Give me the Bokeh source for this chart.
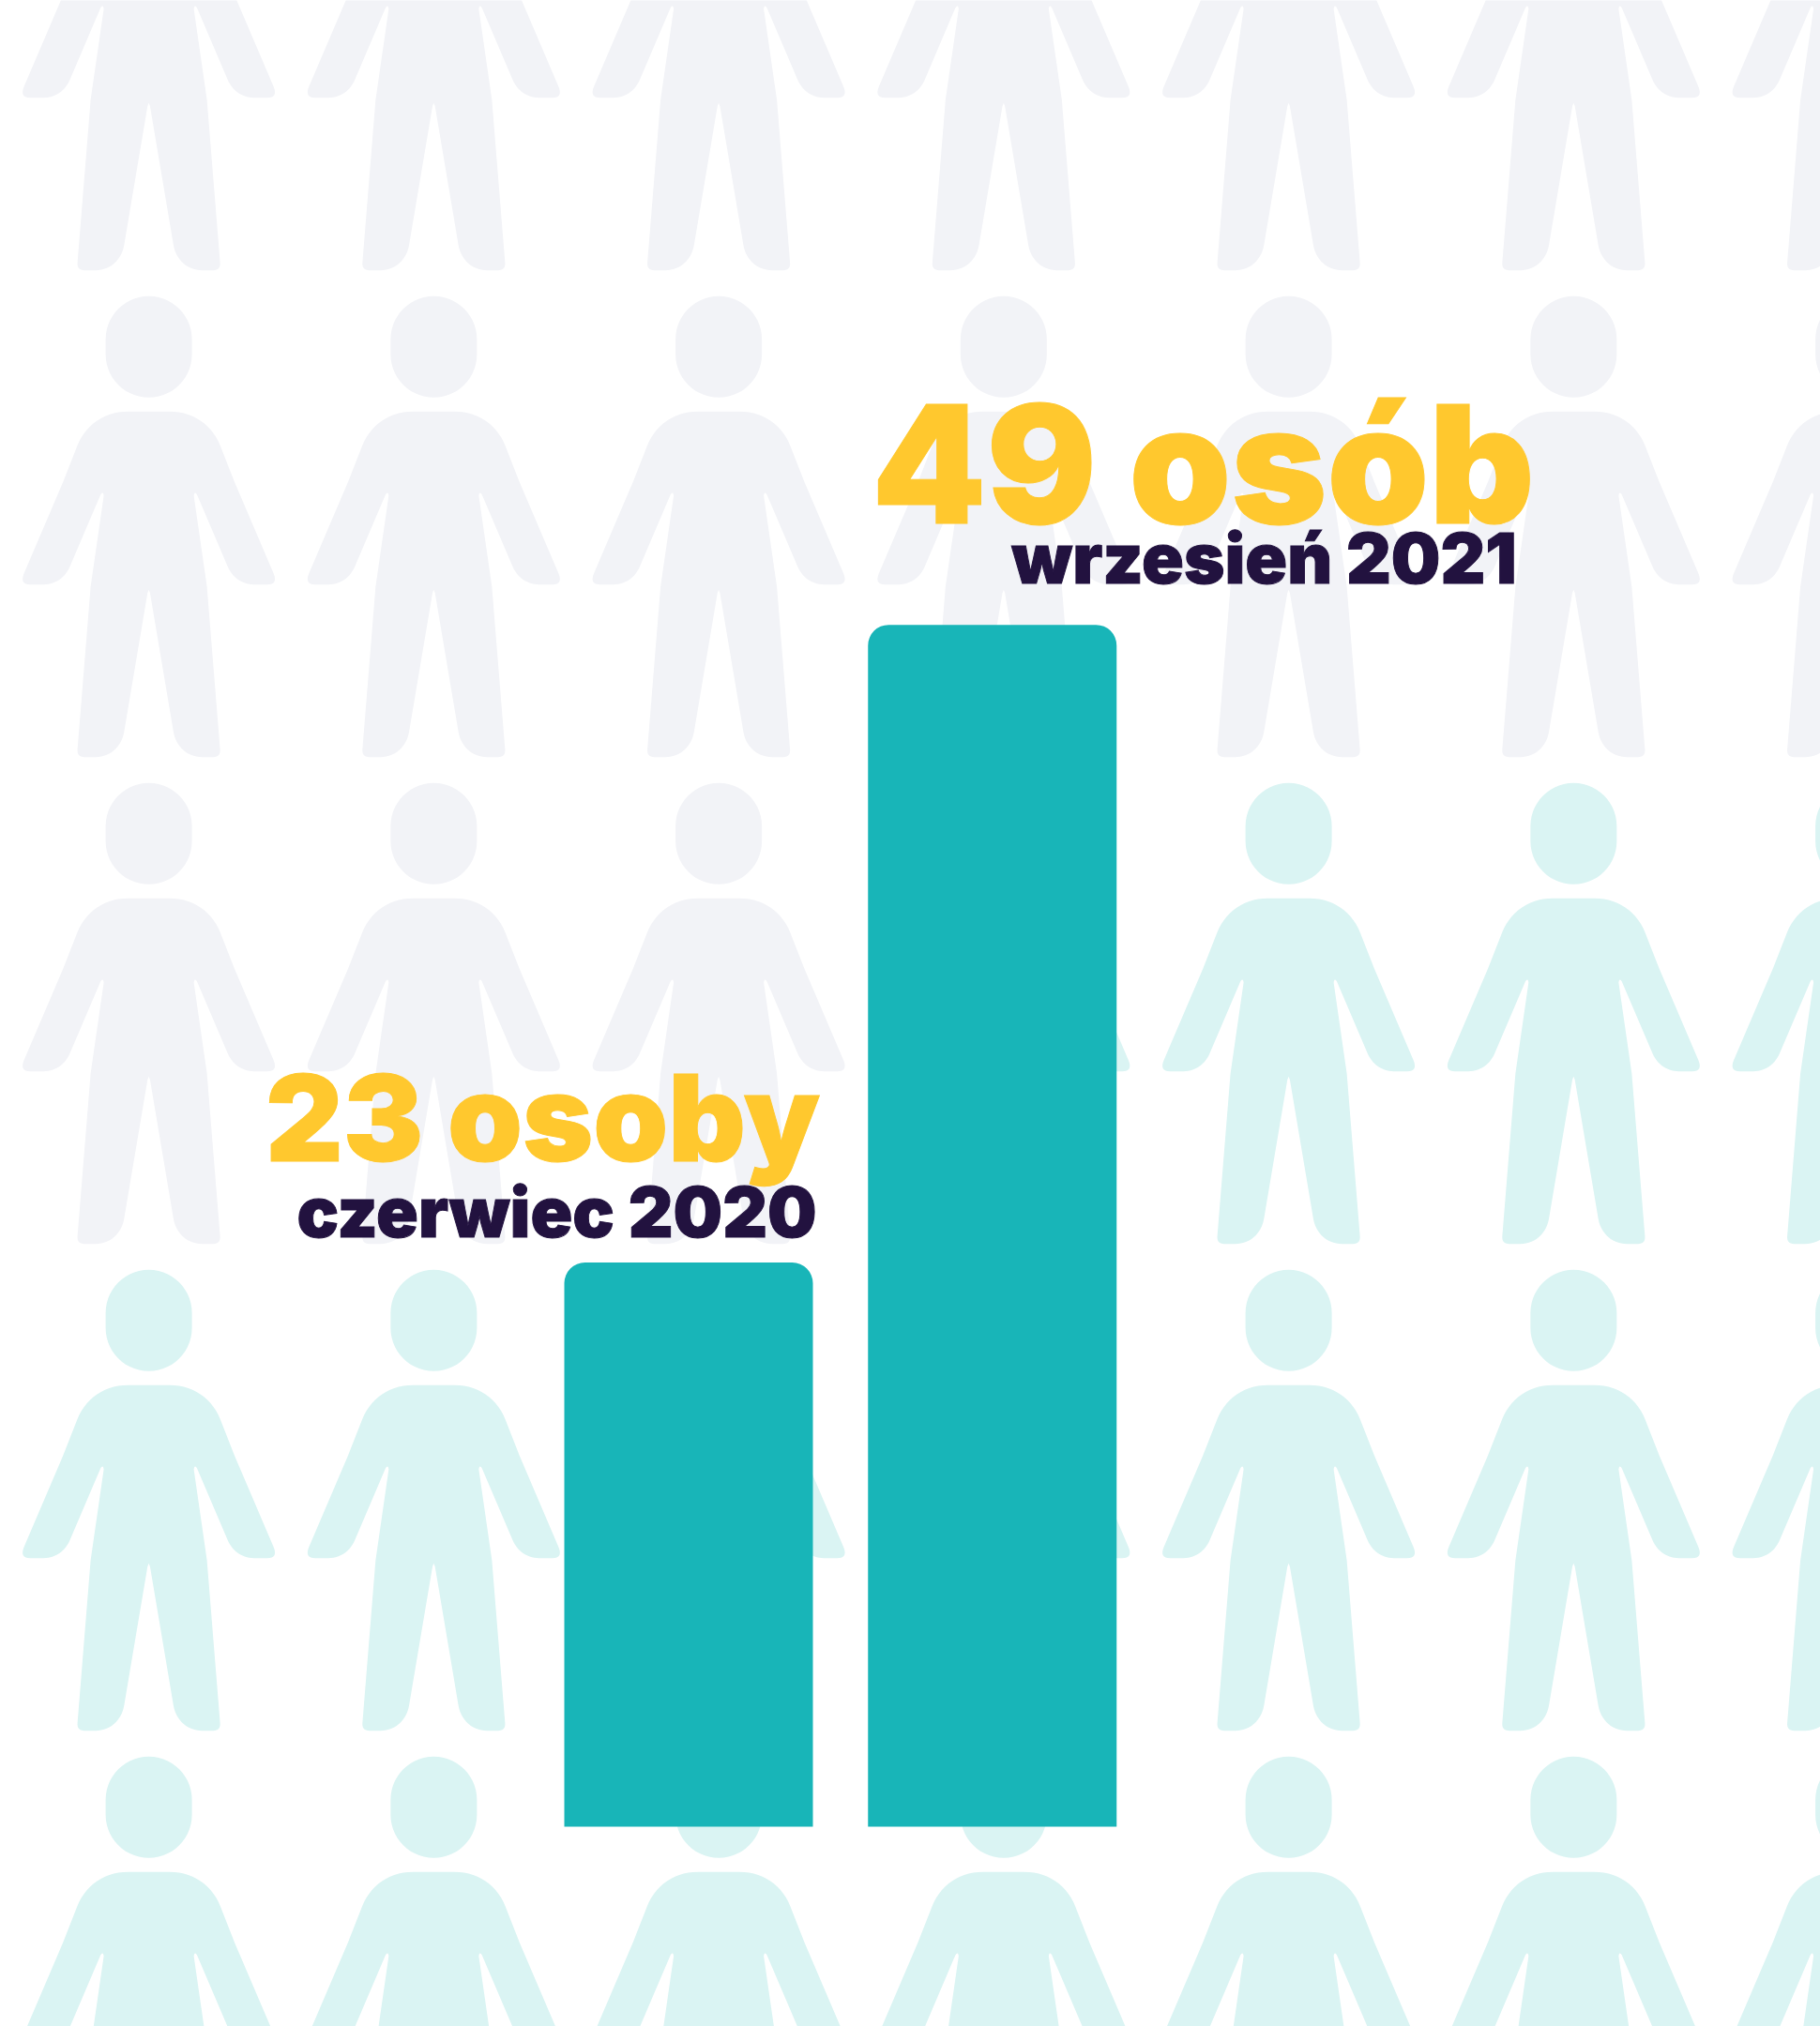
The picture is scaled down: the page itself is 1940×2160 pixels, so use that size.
from bokeh.core.properties import value
from bokeh.embed import file_html
from bokeh.models import ColumnDataSource, Range1d
from bokeh.plotting import figure
from bokeh.resources import INLINE

# Survey counts shown as bars
periods = ["czerwiec 2020", "wrzesień 2021"]
counts = [23, 49]
count_labels = ["23 osoby", "49 osób"]

GREY = "#F2F3F7"
MINT = "#DAF4F3"
TEAL = "#18B5B8"
YELLOW = "#FFC82E"
INK = "#22123F"
FONT = "Inter Black"

W, H = 1940, 2160
ICON_SCALE = 1 / 3
ICON_AXIS = 474
ICON_TOP = 46
COL_X0, COL_STEP, N_COLS = 158.1, 303.75, 7
ROW_Y0, ROW_STEP = -203.7, 519.0
# Number of grey figures per row of the backdrop; the remainder of a row is mint
grey_per_row = [7, 7, 3, 0, 0]


def cubic(p0, p1, p2, p3, n=14):
    pts = []
    for i in range(1, n + 1):
        t = i / n
        u = 1 - t
        pts.append((
            u**3 * p0[0] + 3 * u * u * t * p1[0] + 3 * u * t * t * p2[0] + t**3 * p3[0],
            u**3 * p0[1] + 3 * u * u * t * p1[1] + 3 * u * t * t * p2[1] + t**3 * p3[1],
        ))
    return pts


def quad(p0, c, p2, n=8):
    pts = []
    for i in range(1, n + 1):
        t = i / n
        u = 1 - t
        pts.append((u * u * p0[0] + 2 * u * t * c[0] + t * t * p2[0],
                    u * u * p0[1] + 2 * u * t * c[1] + t * t * p2[1]))
    return pts


def body_outline():
    """Right half of the pictogram's body, mirrored around its vertical axis."""
    half = [(474, 415), (540, 415)]
    half += cubic((540, 415), (615, 415), (675, 455), (703, 525))
    half += [(748, 640), (873, 932)]
    half += quad((873, 932), (888, 968), (853, 968))
    half += [(810, 968)]
    half += cubic((810, 968), (775, 968), (742, 948), (726, 910))
    half += [(628, 680)]
    half += quad((628, 680), (620, 668), (618, 684), 5)
    half += [(660, 975), (702, 1495)]
    half += quad((702, 1495), (704, 1520), (680, 1520))
    half += [(645, 1520)]
    half += cubic((645, 1520), (600, 1520), (562, 1490), (553, 1440))
    half += [(478, 995), (474, 985)]
    mirrored = [(2 * ICON_AXIS - x, y) for x, y in reversed(half[1:-1])]
    return half + mirrored


def head_outline():
    """Capsule-shaped head."""
    r = 138
    left, right, top, bottom = 336, 612, 46, 370
    k = 0.5523 * r
    pts = [(left, top + r)]
    pts += cubic((left, top + r), (left, top + r - k), (left + r - k, top), (left + r, top))
    pts += cubic((right - r, top), (right - r + k, top), (right, top + r - k), (right, top + r))
    pts += [(right, bottom - r)]
    pts += cubic((right, bottom - r), (right, bottom - r + k), (right - r + k, bottom), (right - r, bottom))
    pts += cubic((left + r, bottom), (left + r - k, bottom), (left, bottom - r + k), (left, bottom - r))
    return pts


BODY = body_outline()
HEAD = head_outline()

xs, ys, fills = [], [], []
for row, n_grey in enumerate(grey_per_row):
    for col in range(N_COLS):
        cx = COL_X0 + col * COL_STEP
        top = ROW_Y0 + row * ROW_STEP
        part_xs, part_ys = [], []
        for shape in (HEAD, BODY):
            part_xs.append([[cx + (x - ICON_AXIS) * ICON_SCALE for x, _ in shape]])
            part_ys.append([[top + (y - ICON_TOP) * ICON_SCALE for _, y in shape]])
        xs.append(part_xs)
        ys.append(part_ys)
        fills.append(GREY if col < n_grey else MINT)

p = figure(
    width=W, height=H, output_backend="svg", toolbar_location=None, min_border=0,
    x_range=Range1d(0, W), y_range=Range1d(H, 0),
    background_fill_color="white", border_fill_color="white",
)
p.axis.visible = False
p.grid.visible = False
p.outline_line_color = None

# Scales for the bars: one step per period, one vertical unit per person
BASELINE_PX = 1947.0
PX_PER_PERSON = 26.15
BAR_PITCH_PX = 323.75
FIRST_BAR_PX = 733.5
p.extra_x_ranges["period"] = Range1d(-FIRST_BAR_PX / BAR_PITCH_PX, (W - FIRST_BAR_PX) / BAR_PITCH_PX)
p.extra_y_ranges["people"] = Range1d((BASELINE_PX - H) / PX_PER_PERSON, BASELINE_PX / PX_PER_PERSON)

p.multi_polygons(xs=xs, ys=ys, fill_color=fills, line_color=None)

bars = ColumnDataSource(dict(pos=list(range(len(counts))), count=counts))
p.vbar(
    x="pos", top="count", bottom=0, width=265.0 / BAR_PITCH_PX, source=bars,
    x_range_name="period", y_range_name="people",
    fill_color=TEAL, line_color=None, border_radius=(22, 22, 0, 0),
)

# Figures above each bar, with the period underneath
count_text = ColumnDataSource(dict(
    x=[578, 1282], y=[1191, 494], label=count_labels, size=["128px", "174px"],
))
p.text(
    "x", "y", text="label", source=count_text, text_font=value(FONT),
    text_font_size="size", text_color=YELLOW, text_outline_color=YELLOW,
    text_align="center", text_baseline="alphabetic",
)
period_text = ColumnDataSource(dict(x=[593, 1347], y=[1291.5, 594], label=periods))
p.text(
    "x", "y", text="label", source=period_text, text_font=value(FONT),
    text_font_size="74px", text_color=INK, text_outline_color=INK,
    text_align="center", text_baseline="alphabetic",
)

open("out.html", "w").write(file_html(p, INLINE))
